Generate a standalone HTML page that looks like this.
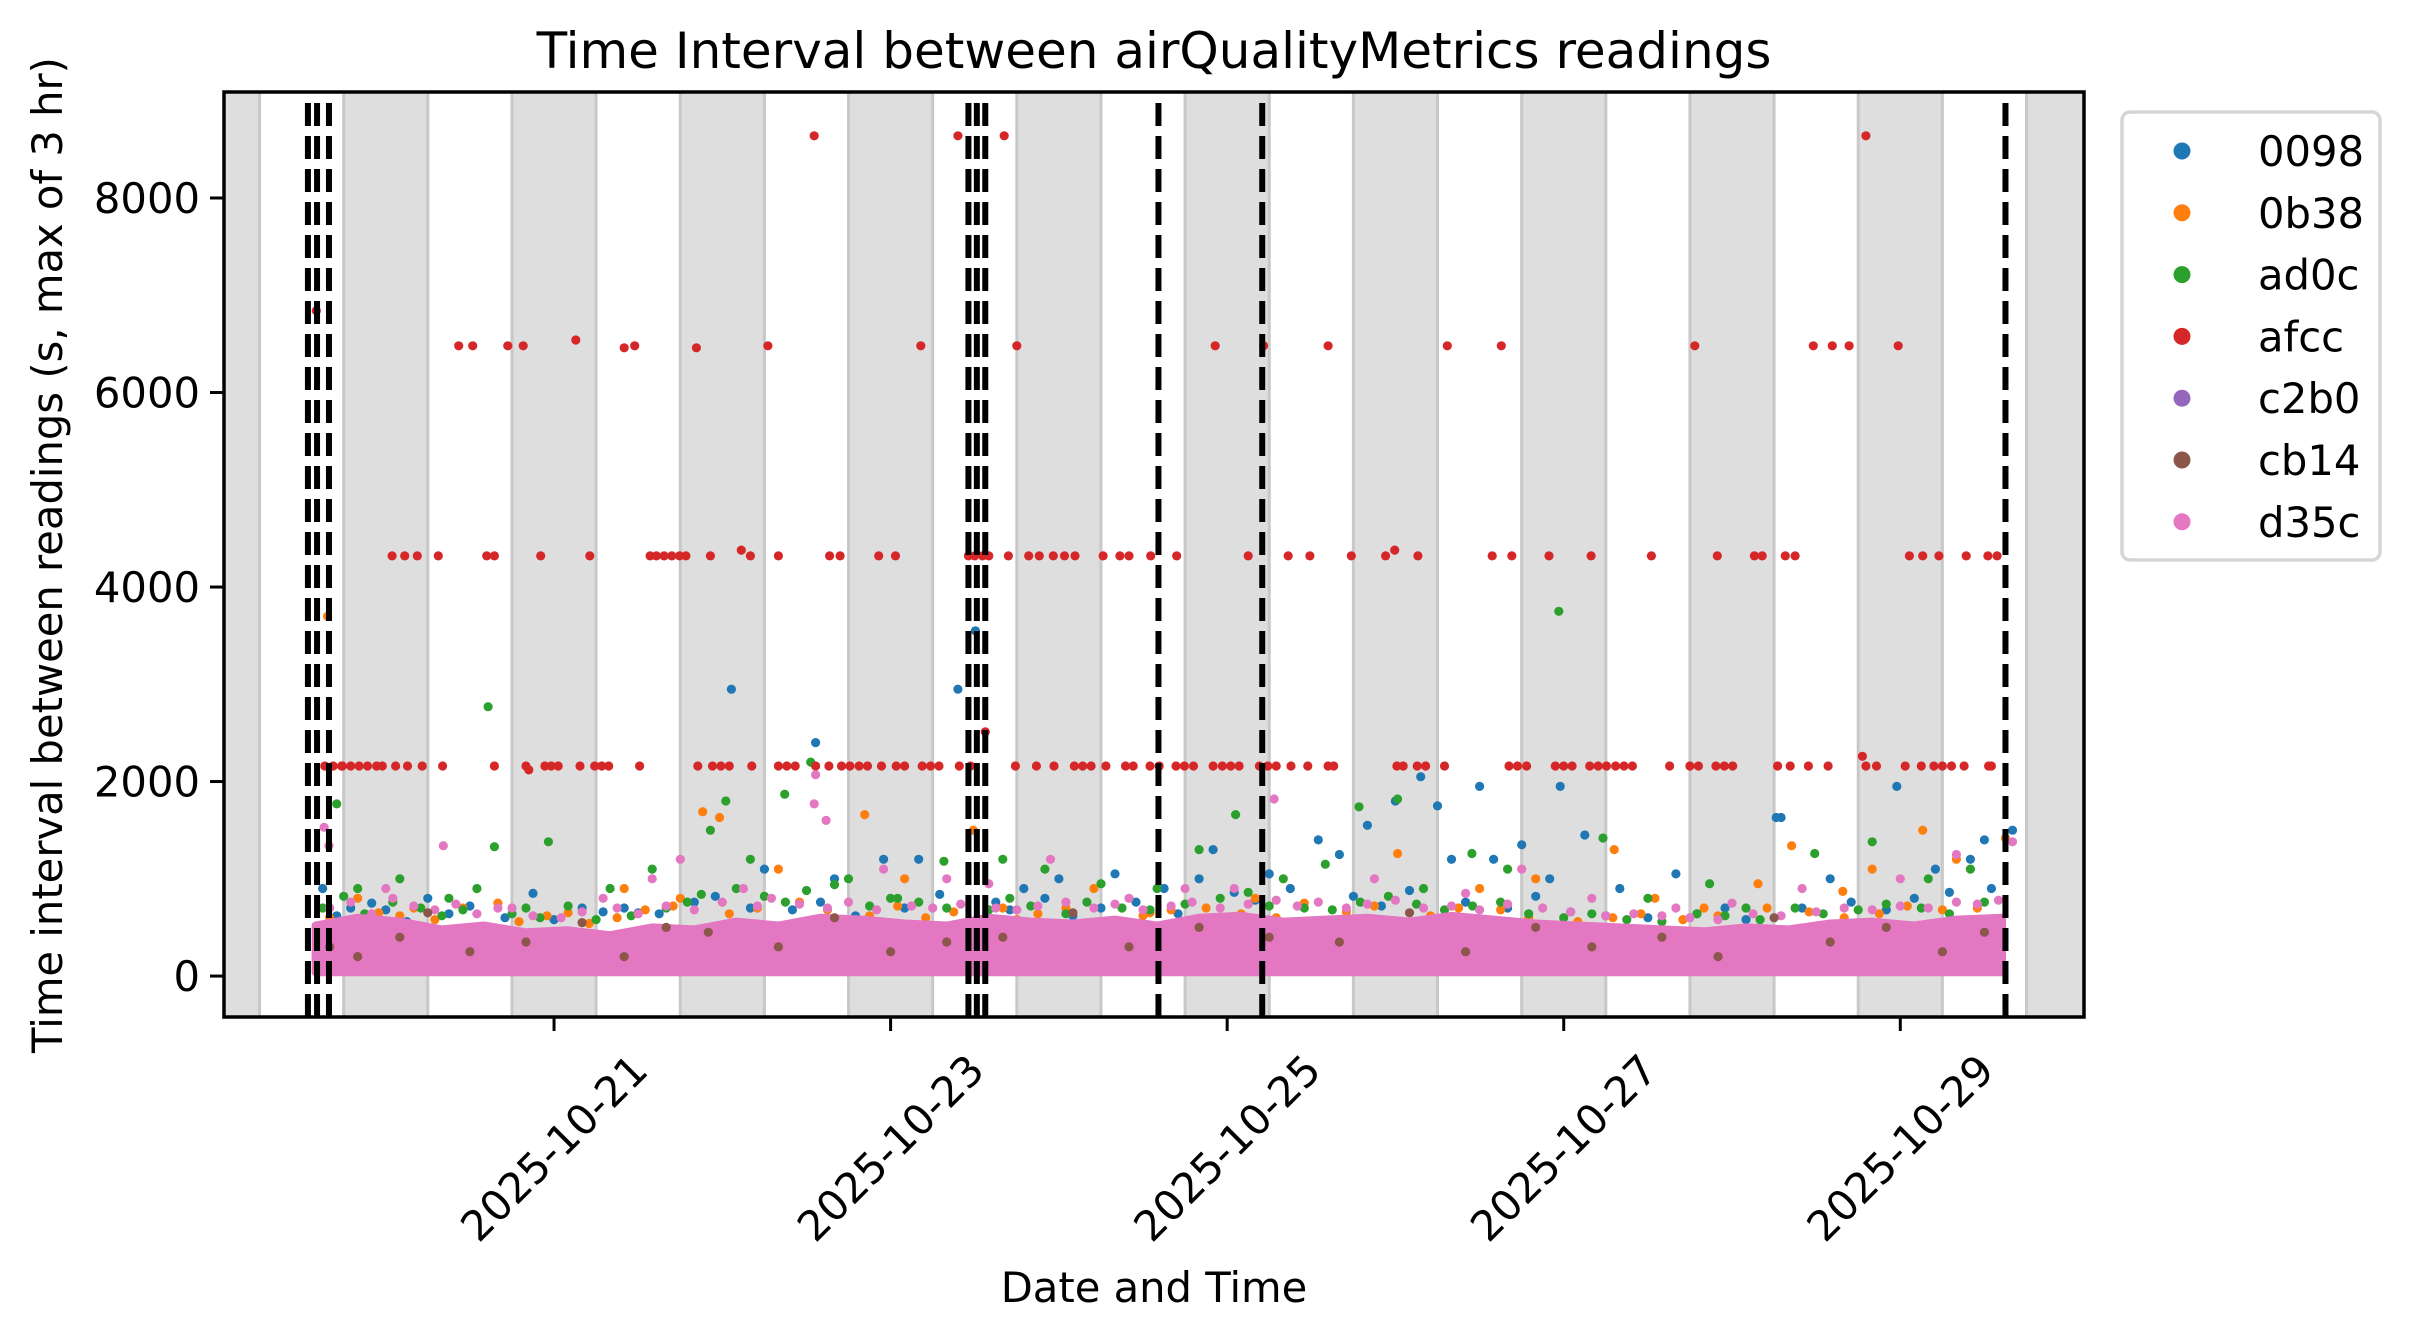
<!DOCTYPE html>
<html><head><meta charset="utf-8"><style>
html,body{margin:0;padding:0;background:#fff}
svg{display:block;font-family:"DejaVu Sans","Liberation Sans",sans-serif}
</style></head><body>
<svg id="chart" width="2409" height="1335" viewBox="0 0 2409 1335" xmlns="http://www.w3.org/2000/svg">
<rect width="2409" height="1335" fill="#fff"/>
<text x="1154" y="68" font-size="50" text-anchor="middle">Time Interval between airQualityMetrics readings</text>
<text transform="translate(62,555) rotate(-90)" font-size="41.7" text-anchor="middle">Time interval between readings (s, max of 3 hr)</text>
<text x="1154" y="1302" font-size="41.7" text-anchor="middle">Date and Time</text>
<g id="plot"></g>
<g id="axes"></g>
<g id="legend"></g>
</svg>
<script>
// hours since 2025-10-19 00:00
const xTickLabels = ["2025-10-21","2025-10-23","2025-10-25","2025-10-27","2025-10-29"];
const xTickHours = [48, 96, 144, 192, 240];
const yTicks = [0, 2000, 4000, 6000, 8000];
const nightStarts = [-6, 18, 42, 66, 90, 114, 138, 162, 186, 210, 234, 258];
const eventLines = [12.9, 14.2, 15.9, 107.1, 108.3, 109.5, 134.2, 149.0, 255.0];
const seriesNames = ["0098","0b38","ad0c","afcc","c2b0","cb14","d35c"];
const seriesColors = ["#1f77b4","#ff7f0e","#2ca02c","#d62728","#9467bd","#8c564b","#e377c2"];
const bandHours = [14, 20, 26, 32, 38, 44, 50, 56, 62, 68, 74, 80, 86, 92, 98, 104, 110, 116, 122, 128, 134, 140, 146, 152, 158, 164, 170, 176, 182, 188, 194, 200, 206, 212, 218, 224, 230, 236, 242, 248, 254.5];
const bandTop = [520, 600, 560, 480, 520, 450, 470, 420, 500, 480, 560, 520, 600, 580, 540, 520, 600, 560, 540, 580, 520, 600, 620, 560, 580, 600, 560, 620, 580, 540, 520, 500, 480, 460, 500, 480, 540, 560, 520, 580, 600];
const afccT = [15.3,16.5,17.8,19.0,20.2,21.4,22.7,23.5,25.4,27.1,29.2,32.1,39.5,44.0,44.4,46.7,47.6,48.6,51.7,53.8,54.8,55.8,60.2,68.5,70.6,71.8,73.0,76.2,80.0,81.2,82.4,85.3,87.2,89.0,90.2,91.5,92.7,94.7,96.8,98.0,100.5,101.7,102.9,105.8,107.4,113.8,116.8,119.3,122.2,123.4,124.6,126.7,129.5,130.6,133.0,134.3,136.7,137.9,139.2,142.0,143.3,144.5,145.7,148.6,149.8,151.0,153.1,155.5,158.4,159.2,168.2,169.1,171.1,172.3,175.0,184.2,185.4,186.7,190.8,192.0,193.2,195.7,196.9,198.1,199.4,200.6,201.8,207.1,210.0,211.2,213.7,214.9,216.1,222.5,224.3,226.9,229.7,234.6,235.1,236.6,240.7,243.0,244.8,246.0,247.3,249.1,252.6,253.0,
 17.7,24.9,26.7,28.5,38.4,39.5,46.1,53.1,61.7,62.6,63.7,64.8,65.9,66.8,70.3,74.7,76.0,80.0,87.3,88.8,94.3,96.7,107.1,108.0,109.1,110.0,112.8,115.7,117.2,119.2,120.8,122.3,126.3,128.7,130.0,133.1,136.8,147.0,152.7,155.8,161.7,166.6,167.9,171.2,181.8,184.6,189.9,195.9,204.5,213.9,219.2,220.3,223.6,225.0,241.3,243.2,245.5,249.4,252.5,253.8,
 31.5,34.4,36.4,41.4,43.6,58.0,59.5,68.3,78.5,100.3,114.0,142.3,149.2,158.4,175.4,183.1,210.7,227.6,230.3,232.7,239.7,
 51.1,85.1,105.6,235.1,112.2,14.1,109.5];
const afccV = [2160,2160,2160,2160,2160,2160,2160,2160,2160,2160,2160,2160,2160,2160,2120,2160,2160,2160,2160,2160,2160,2160,2160,2160,2160,2160,2160,2160,2160,2160,2160,2160,2160,2160,2160,2160,2160,2160,2160,2160,2160,2160,2160,2160,2160,2160,2160,2160,2160,2160,2160,2160,2160,2160,2160,2160,2160,2160,2160,2160,2160,2160,2160,2160,2160,2160,2160,2160,2160,2160,2160,2160,2160,2160,2160,2160,2160,2160,2160,2160,2160,2160,2160,2160,2160,2160,2160,2160,2160,2160,2160,2160,2160,2160,2160,2160,2160,2260,2160,2160,2160,2160,2160,2160,2160,2160,2160,2160,2160,
 4320,4320,4320,4320,4320,4320,4320,4320,4320,4320,4320,4320,4320,4320,4380,4320,4320,4320,4320,4320,4320,4320,4320,4320,4320,4320,4320,4320,4320,4320,4320,4320,4320,4320,4320,4320,4320,4320,4320,4320,4320,4380,4320,4320,4320,4320,4320,4320,4320,4320,4320,4320,4320,4320,4320,4320,4320,4320,4320,4320,
 6480,6480,6480,6480,6460,6480,6460,6480,6480,6480,6480,6480,6480,6480,6480,6480,6480,6480,6480,6480,6540,
 8640,8640,8640,8640,6840,2510,2580];
const blueT = [73.3,105.6,108.1,85.3,164,168,171.6,174,180,182,186,191.5,239.5,222.3,223,256,15,22,30,45,52,60,78,88,95,100,115,120,128,135,140,150,157,176,195,200,208,215,230,245,250,252,118,142,160,190];
const blueV = [2950,2950,3550,2400,1550,1800,2050,1750,1950,1200,1350,1950,1950,1630,1630,1500,900,750,800,850,700,650,1100,1000,1200,1200,900,1000,1050,900,1000,1050,1400,1200,1450,900,1050,700,1000,1100,1200,1400,800,1300,1250,1000];
const blueT2 = [17,19,24,27,33,36,41,48,55,58,63,68,71,76,82,86,91,98,103,111,113,122,126,131,137,145,148,153,162,166,170,178,184,188,193,198,204,211,218,226,233,238,242,247,253];
const blueV2 = [620,700,680,560,640,720,600,580,660,700,640,760,820,700,680,760,620,700,840,760,680,620,700,760,640,860,780,900,820,720,880,760,700,820,660,620,600,640,580,700,760,680,800,860,900];
const orangeT = [15.7,69.2,71.6,92.3,107.8,168.3,199.2,224.5,219.7,231.8,243.2,255,20,28,40,50,58,66,80,98,112,125,133,148,155,180,188,205,212,236,248];
const orangeV = [3700,1690,1630,1660,1500,1260,1300,1340,950,870,1500,1420,800,700,750,650,900,800,1100,1000,700,900,650,800,750,900,1000,800,700,1100,1200];
const orangeT2 = [16,18,23,26,31,35,43,47,53,57,61,65,73,77,83,87,93,97,101,105,114,117,121,127,132,136,141,146,151,156,161,165,173,177,183,187,194,199,203,209,214,221,227,232,237,241,246,251];
const orangeV2 = [600,560,650,620,580,700,560,620,540,600,680,720,640,700,760,680,620,720,600,660,580,640,700,560,620,680,700,640,600,560,660,720,620,700,680,600,560,600,640,580,620,700,660,600,640,720,680,700];
const greenT = [38.6,191.3,17,84.6,80.9,47.2,39.5,70.3,72.5,103.6,145.2,162.8,168.3,178.9,197.6,212.8,227.8,236,20,26,33,44,56,62,76,90,96,112,118,126,134,140,152,158,172,184,204,218,244,250];
const greenV = [2770,3750,1770,2200,1870,1380,1330,1500,1800,1180,1660,1740,1820,1260,1420,950,1260,1380,900,1000,800,700,900,1100,1200,1000,800,1200,1100,950,900,1300,1000,1150,900,1100,800,700,1000,1100];
const greenT2 = [15,18,21,25,29,32,35,37,42,46,50,54,59,64,67,69,74,78,81,84,88,93,97,100,104,110,113,116,121,124,129,133,138,143,147,150,155,159,163,167,171,175,179,183,187,192,196,201,206,211,215,220,225,229,234,238,243,247,252];
const greenV2 = [700,820,640,760,700,620,680,900,640,600,720,580,620,700,760,840,900,820,760,880,940,720,800,760,700,680,800,720,640,760,700,680,740,800,860,720,700,680,760,820,740,680,720,760,640,600,640,580,560,640,620,580,700,640,680,740,700,640,760];
const pinkT = [15.2,15.9,32.2,66,85.1,85.3,86.8,118.8,150.7,256,24,42,55,62,75,95,104,110,130,138,145,165,178,186,196,208,216,226,240,248];
const pinkV = [1530,1340,1340,1200,1770,2070,1600,1200,1820,1380,900,700,800,1000,900,1100,1000,950,800,900,900,1000,850,1100,800,700,750,900,1000,1250];
const pinkT2 = [16,19,22,25,28,31,34,37,40,45,49,52,57,60,64,68,72,77,79,83,87,90,94,99,102,106,111,114,117,121,125,128,132,136,139,143,147,151,154,157,161,164,168,172,176,180,184,189,193,198,202,206,210,214,219,223,228,232,236,240,244,248,251,254];
const pinkV2 = [700,760,640,800,720,680,740,640,700,620,600,660,700,640,720,680,760,720,800,740,700,760,680,720,700,740,700,680,720,760,700,740,680,720,760,700,740,780,720,760,700,740,780,700,720,680,740,700,660,620,640,620,600,580,640,620,660,700,680,720,700,760,740,780];
const brownT = [16,30,52,64,88,104,122,140,150,170,188,206,222,238,252,20,26,36,44,58,70,80,96,112,130,160,178,196,214,230,246];
const brownV = [300,650,550,500,600,350,650,500,400,650,500,400,600,500,450,200,400,250,350,200,450,300,250,400,300,350,250,300,200,350,250];

const L=224,R=2084,T=92,B=1017;
const xMin=0.93,xMax=266.2,yMin=-421,yMax=9090;
const X=h=>L+(h-xMin)/(xMax-xMin)*(R-L);
const Y=v=>B-(v-yMin)/(yMax-yMin)*(B-T);
const NS="http://www.w3.org/2000/svg";
function mk(tag,attrs,parent){const e=document.createElementNS(NS,tag);for(const k in attrs)e.setAttribute(k,attrs[k]);parent.appendChild(e);return e;}
const plot=document.getElementById('plot'),axes=document.getElementById('axes'),leg=document.getElementById('legend');
const cp=mk('clipPath',{id:'clip'},plot);
mk('rect',{x:L,y:T,width:R-L,height:B-T},cp);
const g=mk('g',{'clip-path':'url(#clip)'},plot);
nightStarts.forEach(s=>{
  const r=mk('rect',{x:X(s),y:T,width:X(s+12)-X(s),height:B-T,fill:'#dedede',stroke:'#c8c8c8','stroke-width':3},g);
  
  
});
function dots(ts,vs,color,name){
  const sg=mk('g',{fill:color},g);
  
  
  ts.forEach((t,i)=>{const c=mk('circle',{cx:X(t).toFixed(1),cy:Y(vs[i]).toFixed(1),r:4.6},sg);
    
    });
}
dots(blueT,blueV,seriesColors[0],'0098');
dots(blueT2,blueV2,seriesColors[0],'0098');
dots(orangeT,orangeV,seriesColors[1],'0b38');
dots(orangeT2,orangeV2,seriesColors[1],'0b38');
dots(greenT,greenV,seriesColors[2],'ad0c');
dots(greenT2,greenV2,seriesColors[2],'ad0c');
dots(afccT,afccV,seriesColors[3],'afcc');
dots(pinkT2,pinkV2,seriesColors[6],'d35c');
// dense band of d35c readings
let pts=bandHours.map((h,i)=>X(h).toFixed(1)+','+Y(bandTop[i]).toFixed(1));
pts.push(X(bandHours[bandHours.length-1]).toFixed(1)+','+Y(40).toFixed(1));
pts.push(X(bandHours[0]).toFixed(1)+','+Y(40).toFixed(1));
const band=mk('polygon',{points:pts.join(' '),fill:'#e377c2',stroke:'#e377c2','stroke-width':8,'stroke-linejoin':'round'},g);


dots(brownT,brownV,seriesColors[5],'cb14');
dots(pinkT,pinkV,seriesColors[6],'d35c');
eventLines.forEach(h=>{
  const l=mk('line',{x1:X(h),x2:X(h),y1:B,y2:T,stroke:'#000','stroke-width':6,'stroke-dasharray':'23 10'},g);
  
  
});
const fr=mk('rect',{x:L,y:T,width:R-L,height:B-T,fill:'none',stroke:'#000','stroke-width':3.5},axes);


yTicks.forEach(v=>{
  mk('line',{x1:L-14,x2:L,y1:Y(v),y2:Y(v),stroke:'#000','stroke-width':3},axes);
  const t=mk('text',{x:L-24,y:Y(v)+15,'font-size':41.7,'text-anchor':'end'},axes);t.textContent=v;
  
  
});
xTickHours.forEach((h,i)=>{
  const x=X(h);
  mk('line',{x1:x,x2:x,y1:B,y2:B+14,stroke:'#000','stroke-width':3},axes);
  const t=mk('text',{x:0,y:0,'font-size':41.7,'text-anchor':'middle','dominant-baseline':'central',transform:`translate(${x},1148) rotate(-45)`},axes);
  t.textContent=xTickLabels[i];
  
  
});
const lb=mk('rect',{x:2122,y:112,width:258,height:448,rx:8,fill:'#fff',stroke:'#d5d5d5','stroke-width':3.5},leg);


seriesNames.forEach((n,i)=>{
  const y=151+i*61.8;
  const e=mk('g',{},leg);
  
  
  mk('circle',{cx:2182,cy:y,r:8.5,fill:seriesColors[i]},e);
  const t=mk('text',{x:2258,y:y+15,'font-size':41.7},e);t.textContent=n;
});
</script>
</body></html>
